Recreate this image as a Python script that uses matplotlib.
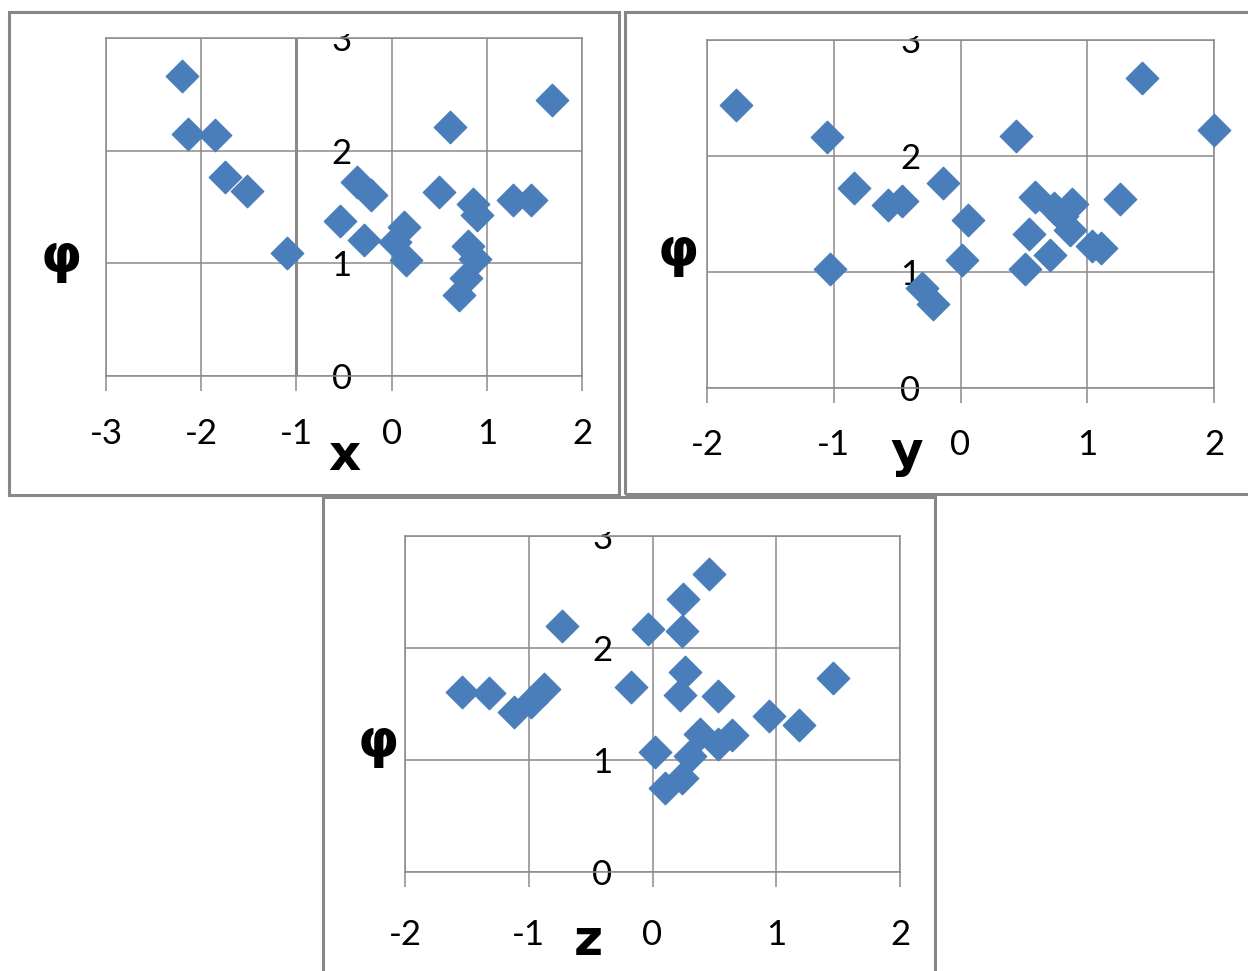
import matplotlib.pyplot as plt
from matplotlib.patches import Rectangle
from matplotlib.transforms import Bbox, TransformedBbox

# values
x_vals = [-2.20, -2.14, -1.85, -1.75, -1.52, -1.10, -0.54, -0.36, -0.22, -0.29,
          0.13, 0.04, 0.15, 0.50, 0.61, 0.86, 0.90, 0.80, 0.88, 0.78, 0.71,
          1.28, 1.46, 1.68]
phi_x = [2.66, 2.15, 2.14, 1.77, 1.64, 1.09, 1.38, 1.72, 1.61, 1.21,
         1.32, 1.19, 1.03, 1.63, 2.21, 1.53, 1.43, 1.15, 1.04, 0.87, 0.72,
         1.56, 1.56, 2.45]

y_vals = [-1.77, -1.05, -1.03, -0.84, -0.57, -0.46, -0.14, -0.30, -0.22, 0.01,
          0.06, 0.44, 0.51, 0.54, 0.59, 0.71, 0.74, 0.80, 0.86, 0.88, 1.04,
          1.11, 1.26, 1.43, 2.00]
phi_y = [2.44, 2.16, 1.03, 1.72, 1.58, 1.61, 1.77, 0.86, 0.72, 1.10,
         1.45, 2.17, 1.03, 1.33, 1.65, 1.15, 1.55, 1.48, 1.36, 1.59, 1.22,
         1.21, 1.63, 2.67, 2.22]

z_vals = [-1.54, -1.32, -1.12, -0.98, -0.88, -0.73, -0.17, -0.04, 0.24, 0.25,
          0.46, 0.26, 0.22, 0.53, 0.02, 0.10, 0.24, 0.30, 0.38, 0.53, 0.64,
          0.94, 1.18, 1.46]
phi_z = [1.61, 1.60, 1.43, 1.52, 1.63, 2.20, 1.65, 2.17, 2.15, 2.44,
         2.66, 1.79, 1.58, 1.57, 1.07, 0.75, 0.84, 1.04, 1.23, 1.14, 1.22,
         1.39, 1.31, 1.73]

phi_ticks = [0, 1, 2, 3]

W, H = 1248, 971
fig = plt.figure(figsize=(W / 100, H / 100), dpi=100)
fig.patch.set_facecolor('white')

grid_c = '#8a8a8a'
blue = '#4a7ebb'
tick_font = 'Lato'


def px_box(left, right, top, bottom):
    return [left / W, 1 - bottom / H, (right - left) / W, (bottom - top) / H]


def panel(box, xs, ys, xticks, lab, lab_pos, phi_pos, xlab_off):
    ax = fig.add_axes(px_box(*box))
    ax.scatter(xs, ys, marker='D', s=16.5 ** 2, c=blue, edgecolors=blue,
               linewidths=1, zorder=3, clip_on=False)
    ax.set_xlim(xticks[0], xticks[-1])
    ax.set_ylim(0, 3)
    ax.set_xticks(xticks)
    ax.set_yticks(phi_ticks)
    ax.set_xticklabels([])
    ax.set_yticklabels([])
    ax.grid(True, color=grid_c, lw=1.1)
    ax.tick_params(axis='x', direction='out', length=10.8, width=1.1,
                   color=grid_c)
    ax.tick_params(axis='y', length=0)
    for s in ax.spines.values():
        s.set_color(grid_c)
        s.set_linewidth(1.1)
    for v in xticks:
        ax.annotate(str(v), xy=(v, 0), xycoords=('data', 'axes fraction'),
                    xytext=(0, -(xlab_off + 2) * 0.72),
                    textcoords='offset points',
                    ha='center', va='center', fontsize=25, family=tick_font,
                    annotation_clip=False)
    # "3" is cut off a little above the top of the plot area
    top_clip = TransformedBbox(Bbox([[-0.5, -0.5], [1.5, 1.012]]), ax.transAxes)
    for v in phi_ticks:
        t = ax.annotate(str(v), xy=(0, v), xycoords='data',
                        xytext=(-50 * 0.72, -3 * 0.72),
                        textcoords='offset points',
                        ha='center', va='center', fontsize=25,
                        family=tick_font, annotation_clip=False, zorder=2)
        t.set_clip_box(top_clip)
        t.set_clip_on(True)
    fig.text(lab_pos[0] / W, 1 - lab_pos[1] / H, lab, ha='center',
             va='baseline', fontsize=36, fontweight='bold')
    fig.text(phi_pos[0] / W, 1 - phi_pos[1] / H, 'φ', ha='center',
             va='baseline', fontsize=38, fontweight='bold')
    return ax


ax1 = panel((106, 582, 38, 376), x_vals, phi_x, [-3, -2, -1, 0, 1, 2],
            'x', (344, 470), (61, 272), 56)
ax1.axvline(-1, color=grid_c, lw=2.2, zorder=1)
panel((707, 1214, 40, 388), y_vals, phi_y, [-2, -1, 0, 1, 2],
      'y', (907, 467), (678, 266), 55)
panel((405, 900, 536, 872), z_vals, phi_z, [-2, -1, 0, 1, 2],
      'z', (588, 955), (378, 757), 61)

# chart frames
for (l, r, t, b) in [(9, 619, 12, 495), (625, 1260, 12, 494),
                     (323, 935, 497, 990)]:
    fig.patches.append(Rectangle((l / W, 1 - b / H), (r - l) / W, (b - t) / H,
                                 transform=fig.transFigure, fill=False,
                                 edgecolor='#878787', lw=2.2))

fig.savefig('out.png', dpi=100)
